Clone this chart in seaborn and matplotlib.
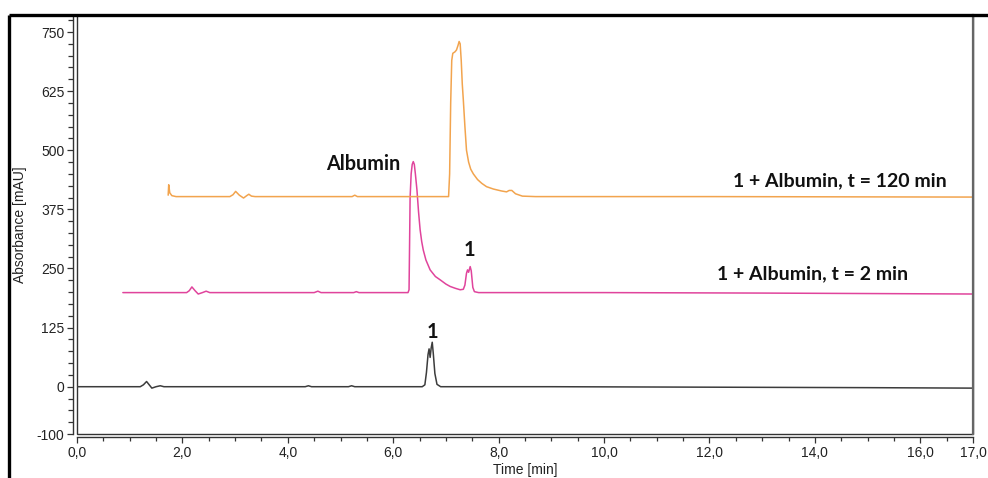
import matplotlib
matplotlib.use("Agg")
import numpy as np
import pandas as pd
import seaborn as sns
import matplotlib.pyplot as plt
from matplotlib.lines import Line2D
from matplotlib.ticker import FixedLocator, MultipleLocator, FuncFormatter

# ---------------- data ----------------
# Compound 1 alone (black trace)
t_blk = [0.00, 1.20, 1.26, 1.32, 1.37, 1.42, 1.50, 1.58, 1.65, 1.75,
         4.33, 4.39, 4.45, 5.15, 5.21, 5.27,
         6.55, 6.60, 6.63, 6.66, 6.68, 6.70, 6.72, 6.74, 6.76, 6.79, 6.83, 6.90,
         9.00, 12.0, 15.0, 17.0]
v_blk = [0, 0, 4, 11, 4, -3, 0, 2, 0, 0,
         0, 2, 0, 0, 2, 0,
         0, 4, 30, 68, 80, 62, 82, 94, 70, 28, 5, 0,
         0, -1, -2, -3]

# 1 + Albumin, t = 2 min (pink trace)
t_pnk = [0.87, 2.08, 2.13, 2.18, 2.24, 2.30, 2.38, 2.45, 2.52, 2.60,
         4.50, 4.57, 4.63, 5.25, 5.30, 5.35,
         6.28, 6.30, 6.31, 6.32, 6.34, 6.36, 6.38, 6.40, 6.42, 6.45, 6.48, 6.51,
         6.54, 6.57, 6.62, 6.70, 6.80, 6.89, 7.00, 7.08, 7.18, 7.27,
         7.33, 7.36, 7.39, 7.41, 7.43, 7.46, 7.48, 7.51, 7.54, 7.62,
         10.0, 13.0, 17.0]
v_pnk = [199, 199, 203, 211, 203, 196, 199, 202, 199, 199,
         199, 202, 199, 199, 201, 199,
         199, 205, 300, 400, 450, 470, 476, 470, 450, 416, 370, 332,
         307, 289, 268, 247, 233, 226, 217, 212, 208, 205,
         206, 215, 240, 247, 242, 254, 245, 210, 201, 199,
         199, 198, 196]

# 1 + Albumin, t = 120 min (orange trace)
t_org = [1.73, 1.74, 1.76, 1.80, 1.88, 2.90, 2.96, 3.01, 3.08, 3.16, 3.22, 3.26,
         3.31, 3.38, 5.22, 5.27, 5.32,
         7.05, 7.07, 7.09, 7.11, 7.13, 7.17, 7.20, 7.23, 7.25, 7.27, 7.29, 7.31,
         7.33, 7.36, 7.39, 7.43, 7.47, 7.52, 7.60, 7.68, 7.77, 7.90, 8.05, 8.15,
         8.20, 8.25, 8.32, 8.45, 8.70, 12.0, 17.0]
v_org = [405, 427, 410, 404, 402, 402, 406, 413, 405, 399, 404, 407,
         403, 402, 402, 405, 402,
         402, 450, 600, 690, 705, 708, 712, 722, 730, 725, 690, 640,
         606, 550, 500, 475, 460, 450, 438, 430, 423, 418, 414, 412,
         415, 415, 408, 403, 402, 402, 401]

trace_names = ["1", "1 + Albumin, t = 2 min", "1 + Albumin, t = 120 min"]
trace_colors = ["#3c3c3c", "#e0449c", "#f2a44e"]

y_major = [-100, 0, 125, 250, 375, 500, 625, 750]
x_major = [0, 2, 4, 6, 8, 10, 12, 14, 16, 17]

# ---------------- figure ----------------
sns.set_theme(style="white")
plt.rcParams["font.family"] = ["Liberation Sans", "DejaVu Sans"]

W, H = 988, 478
fig = plt.figure(figsize=(W / 100, H / 100), dpi=100)
fig.patch.set_facecolor("white")
L, R, T, B = 77, 973, 15, 434
ax = fig.add_axes([L / W, 1 - B / H, (R - L) / W, (B - T) / H])

df = pd.concat([
    pd.DataFrame({"t": t_blk, "v": v_blk, "trace": trace_names[0]}),
    pd.DataFrame({"t": t_pnk, "v": v_pnk, "trace": trace_names[1]}),
    pd.DataFrame({"t": t_org, "v": v_org, "trace": trace_names[2]}),
], ignore_index=True)

sns.lineplot(data=df, x="t", y="v", hue="trace", hue_order=trace_names,
             palette=dict(zip(trace_names, trace_colors)), sort=False,
             estimator=None, legend=False, linewidth=1.1, ax=ax)

ax.set_xlim(0, 17)
ax.set_ylim(-100, 786)

# ticks
ax.yaxis.set_major_locator(FixedLocator(y_major))
ax.yaxis.set_minor_locator(MultipleLocator(25))
ax.xaxis.set_major_locator(FixedLocator(x_major))
ax.xaxis.set_minor_locator(MultipleLocator(0.5))
ax.xaxis.set_major_formatter(FuncFormatter(lambda v, p: f"{v:.1f}".replace(".", ",")))
ax.yaxis.set_major_formatter(FuncFormatter(lambda v, p: f"{v:.0f}"))
ax.tick_params(axis="both", which="both", direction="out", colors="#333333",
               labelcolor="#222222", labelsize=10, width=0.9)
ax.tick_params(axis="y", which="major", length=4, pad=2, left=True)
ax.tick_params(axis="y", which="minor", length=3.5, left=True)
ax.tick_params(axis="x", which="major", length=4.5, pad=2, bottom=True)
ax.tick_params(axis="x", which="minor", length=3, bottom=True)

# spines / frame
for s in ["left", "bottom"]:
    ax.spines[s].set_visible(True)
    ax.spines[s].set_color("#333333")
    ax.spines[s].set_linewidth(1.0)
ax.spines["left"].set_position(("outward", 3))
ax.spines["bottom"].set_position(("outward", 2.2))
ax.spines["right"].set_color("#666666")
ax.spines["right"].set_linewidth(1.6)
ax.spines["top"].set_visible(False)
ax.patch.set_edgecolor("#333333")
ax.patch.set_linewidth(1.0)

ax.set_xlabel("Time [min]", fontsize=10, color="#222222")
ax.set_ylabel("Absorbance [mAU]", fontsize=10, color="#222222")
ax.xaxis.set_label_coords(0.5, -0.069)
ax.yaxis.set_label_coords(-0.056, 0.5)

# annotations
bold = dict(family=["Lato", "DejaVu Sans"], fontweight="bold", color="#111111",
            ha="center", va="baseline")
ax.text(5.43, 458, "Albumin", fontsize=14.3, **bold)
ax.text(6.75, 104, "1", fontsize=14.3, **bold)
ax.text(7.45, 276, "1", fontsize=14.3, **bold)
ax.text(13.96, 227, trace_names[1], fontsize=14, **bold)
ax.text(14.48, 423, trace_names[2], fontsize=14, **bold)

# outer frame lines (top and left)
fig.add_artist(Line2D([9 / W, 1], [1 - 15 / H, 1 - 15 / H], transform=fig.transFigure,
                      color="black", linewidth=2.4, solid_capstyle="butt"))
fig.add_artist(Line2D([9 / W, 9 / W], [0, 1 - 15 / H], transform=fig.transFigure,
                      color="black", linewidth=2.4, solid_capstyle="butt"))

fig.savefig("out.png", dpi=100, facecolor="white")
